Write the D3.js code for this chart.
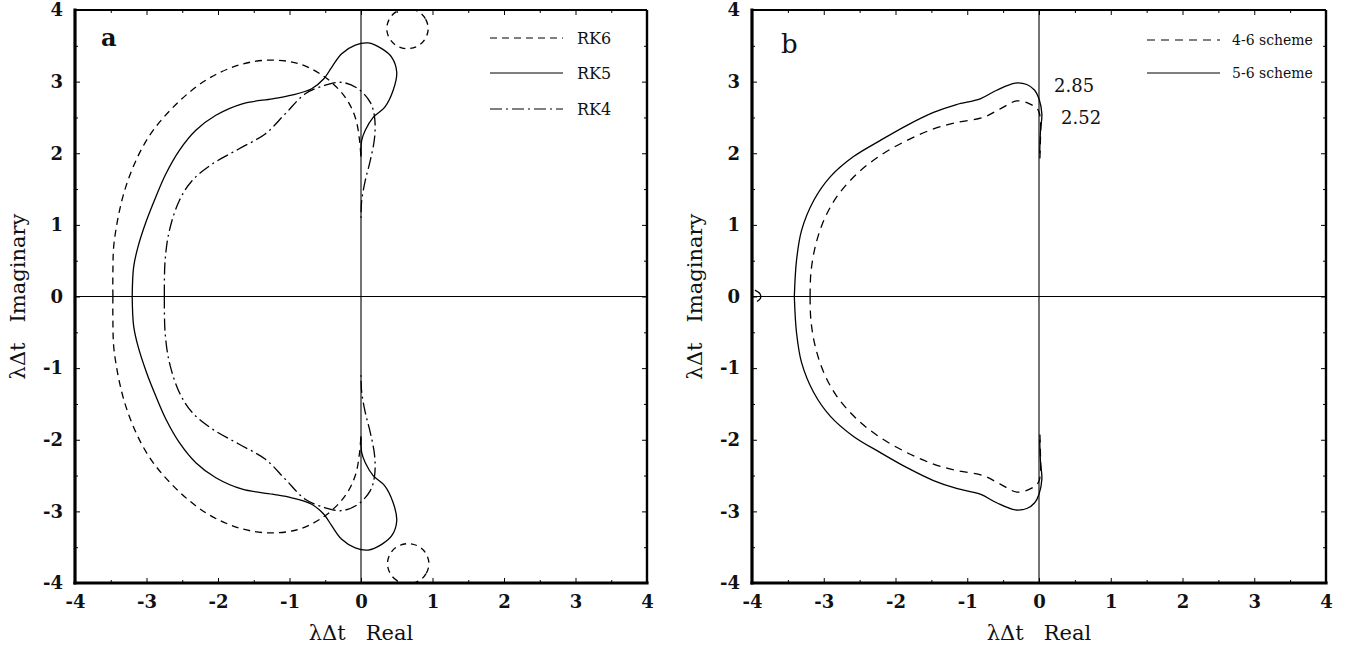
<!DOCTYPE html>
<html>
<head>
<meta charset="utf-8">
<script src="https://cdn.jsdelivr.net/npm/d3@7"></script>
<style>
  body { margin: 0; background: #fff; }
  svg text { font-family: "DejaVu Serif", "Liberation Serif", serif; fill: #111; }
</style>
</head>
<body>
<svg id="chart" width="1351" height="649"></svg>
<script>
// ---- data (lambda*dt plane) ----
var ticksMajor = [-4, -3, -2, -1, 0, 1, 2, 3, 4];
var ticksMinor = [-3.5, -2.5, -1.5, -0.5, 0.5, 1.5, 2.5, 3.5];

// panel a
var rk6Upper = [[-3.47,0],[-3.47,0.35],[-3.45,0.78],[-3.29,1.53],[-3.00,2.18],[-2.63,2.64],[-2.17,3.02],[-1.71,3.23],[-1.29,3.30],[-0.87,3.25],[-0.50,3.06],[-0.22,2.78],[-0.08,2.50],[-0.02,2.18],[0.0,1.92]];
var rk6Lower = [[-3.47,0],[-3.47,-0.35],[-3.45,-0.78],[-3.29,-1.53],[-3.00,-2.18],[-2.63,-2.64],[-2.17,-3.02],[-1.71,-3.23],[-1.29,-3.30],[-0.87,-3.25],[-0.50,-3.06],[-0.22,-2.78],[-0.08,-2.50],[-0.02,-2.18],[0.0,-1.92]];
var rk6IslandUp = [[0.94,3.74],[0.90,3.88],[0.80,3.98],[0.65,4.02],[0.50,3.98],[0.40,3.88],[0.36,3.74],[0.40,3.60],[0.50,3.50],[0.65,3.46],[0.80,3.50],[0.90,3.60]];
var rk6IslandDown = [[0.95,-3.73],[0.91,-3.87],[0.81,-3.97],[0.66,-4.01],[0.51,-3.97],[0.41,-3.87],[0.37,-3.73],[0.41,-3.59],[0.51,-3.49],[0.66,-3.45],[0.81,-3.49],[0.91,-3.59]];
var rk5Upper = [[-3.20,0],[-3.18,0.41],[-3.12,0.69],[-3.00,1.06],[-2.87,1.39],[-2.73,1.71],[-2.54,2.04],[-2.31,2.32],[-2.03,2.53],[-1.66,2.69],[-1.24,2.76],[-0.97,2.81],[-0.69,2.90],[-0.52,3.04],[-0.41,3.20],[-0.27,3.39],[-0.08,3.51],[0.10,3.54],[0.29,3.46],[0.43,3.34],[0.50,3.13],[0.45,2.88],[0.33,2.64],[0.17,2.50],[0.06,2.32],[0.01,2.18],[0.0,1.95]];
var rk5Lower = [[-3.20,0],[-3.18,-0.41],[-3.12,-0.69],[-3.00,-1.06],[-2.87,-1.39],[-2.73,-1.71],[-2.54,-2.04],[-2.31,-2.32],[-2.03,-2.53],[-1.66,-2.69],[-1.24,-2.76],[-0.97,-2.81],[-0.69,-2.90],[-0.52,-3.04],[-0.41,-3.20],[-0.27,-3.39],[-0.08,-3.51],[0.10,-3.54],[0.29,-3.46],[0.43,-3.34],[0.50,-3.13],[0.45,-2.88],[0.33,-2.64],[0.17,-2.50],[0.06,-2.32],[0.01,-2.18],[0.0,-1.95]];
var rk4Upper = [[-2.75,0],[-2.74,0.50],[-2.68,0.92],[-2.54,1.34],[-2.36,1.62],[-2.08,1.85],[-1.71,2.06],[-1.34,2.27],[-1.06,2.55],[-0.78,2.83],[-0.50,2.95],[-0.27,2.99],[-0.04,2.90],[0.13,2.71],[0.19,2.50],[0.19,2.22],[0.13,1.90],[0.06,1.62],[0.01,1.34],[0.0,1.10]];
var rk4Lower = [[-2.75,0],[-2.74,-0.50],[-2.68,-0.92],[-2.54,-1.34],[-2.36,-1.62],[-2.08,-1.85],[-1.71,-2.06],[-1.34,-2.27],[-1.06,-2.55],[-0.78,-2.83],[-0.50,-2.95],[-0.27,-2.99],[-0.04,-2.90],[0.13,-2.71],[0.19,-2.50],[0.19,-2.22],[0.13,-1.90],[0.06,-1.62],[0.01,-1.34],[0.0,-1.10]];

// panel b
var s56Upper = [[-3.41,0],[-3.38,0.50],[-3.31,0.92],[-3.14,1.34],[-2.91,1.67],[-2.59,1.95],[-2.21,2.18],[-1.84,2.39],[-1.47,2.57],[-1.15,2.68],[-0.82,2.76],[-0.59,2.88],[-0.33,2.98],[-0.17,2.96],[-0.06,2.88],[0.0,2.76],[0.04,2.55],[0.02,2.30],[0.01,2.00]];
var s56Lower = [[-3.41,0],[-3.38,-0.50],[-3.31,-0.92],[-3.14,-1.34],[-2.91,-1.67],[-2.59,-1.95],[-2.21,-2.18],[-1.84,-2.39],[-1.47,-2.57],[-1.15,-2.68],[-0.82,-2.76],[-0.59,-2.88],[-0.33,-2.98],[-0.17,-2.96],[-0.06,-2.88],[0.0,-2.76],[0.04,-2.55],[0.02,-2.30],[0.01,-2.00]];
var s56Edge = [[-3.96,0.09],[-3.89,0.04],[-3.88,-0.02],[-3.93,-0.07]];
var s46Upper = [[-3.19,0],[-3.18,0.32],[-3.12,0.69],[-3.00,1.06],[-2.82,1.39],[-2.54,1.71],[-2.21,1.97],[-1.84,2.18],[-1.47,2.34],[-1.15,2.43],[-0.78,2.50],[-0.54,2.62],[-0.31,2.73],[-0.13,2.69],[-0.01,2.60],[0.02,2.46],[0.02,2.20],[0.01,1.85]];
var s46Lower = [[-3.19,0],[-3.18,-0.32],[-3.12,-0.69],[-3.00,-1.06],[-2.82,-1.39],[-2.54,-1.71],[-2.21,-1.97],[-1.84,-2.18],[-1.47,-2.34],[-1.15,-2.43],[-0.78,-2.50],[-0.54,-2.62],[-0.31,-2.73],[-0.13,-2.69],[-0.01,-2.60],[0.02,-2.46],[0.02,-2.20],[0.01,-1.85]];

var labelA = ["RK6", "RK5", "RK4"];
var labelB = ["4-6 scheme", "5-6 scheme"];
var markB = ["2.85", "2.52"];

// ---- layout ----
var svg = d3.select("#chart");
var plotTop = 10, plotBottom = 583;

function drawPanel(left, right, id) {
  var x = d3.scaleLinear().domain([-4, 4]).range([left, right]);
  var y = d3.scaleLinear().domain([-4, 4]).range([plotBottom, plotTop]);
  var g = svg.append("g");

  g.append("clipPath").attr("id", "clip" + id)
    .append("rect").attr("x", left).attr("y", plotTop)
    .attr("width", right - left).attr("height", plotBottom - plotTop);

  // zero lines
  g.append("line").attr("x1", left).attr("x2", right)
    .attr("y1", y(0)).attr("y2", y(0)).attr("stroke", "#000").attr("stroke-width", 1.1);
  g.append("line").attr("x1", x(0)).attr("x2", x(0))
    .attr("y1", plotTop).attr("y2", plotBottom).attr("stroke", "#000").attr("stroke-width", 1.1);

  // axes: inward ticks, labels outside
  var axes = [
    [d3.axisBottom(x), plotBottom, true, "x"],
    [d3.axisTop(x), plotTop, false, "x"],
    [d3.axisLeft(y), left, true, "y"],
    [d3.axisRight(y), right, false, "y"]
  ];
  axes.forEach(function(a) {
    var tr = a[3] === "x" ? "translate(0," + a[1] + ")" : "translate(" + a[1] + ",0)";
    var major = g.append("g").attr("transform", tr)
      .call(a[0].tickValues(ticksMajor).tickSize(-5).tickPadding(12)
        .tickFormat(function(d) { return a[2] ? String(d) : ""; }));
    major.select(".domain").remove();
    major.selectAll("text").attr("font-size", 18).attr("font-family", "DejaVu Serif")
      .attr("font-weight", "bold").attr("fill", "#111");
    major.selectAll("line").attr("stroke", "#000").attr("stroke-width", 1);
    var minor = g.append("g").attr("transform", tr)
      .call(a[0].tickValues(ticksMinor).tickSize(-3).tickFormat(""));
    minor.select(".domain").remove();
    minor.selectAll("line").attr("stroke", "#000").attr("stroke-width", 1);
  });

  // frame: left/bottom heavier
  g.append("line").attr("x1", left).attr("x2", right).attr("y1", plotTop).attr("y2", plotTop)
    .attr("stroke", "#000").attr("stroke-width", 2.2);
  g.append("line").attr("x1", right).attr("x2", right).attr("y1", plotTop).attr("y2", plotBottom)
    .attr("stroke", "#000").attr("stroke-width", 2.4);
  g.append("line").attr("x1", left).attr("x2", right).attr("y1", plotBottom).attr("y2", plotBottom)
    .attr("stroke", "#000").attr("stroke-width", 3.2).attr("stroke-linecap", "square");
  g.append("line").attr("x1", left).attr("x2", left).attr("y1", plotTop).attr("y2", plotBottom)
    .attr("stroke", "#000").attr("stroke-width", 3.2).attr("stroke-linecap", "square");

  // axis titles
  g.append("text").attr("x", x(0)).attr("y", 640).attr("text-anchor", "middle")
    .attr("font-size", 21).style("white-space", "pre").text("λΔt   Real");
  g.append("text").attr("transform", "translate(" + (left - 50) + "," + y(0) + ") rotate(-90)")
    .attr("text-anchor", "middle").attr("font-size", 21).style("white-space", "pre")
    .text("λΔt   Imaginary");

  return { g: g, x: x, y: y, id: id };
}

function curve(p, pts, dash, closed) {
  var line = d3.line()
    .x(function(d) { return p.x(d[0]); })
    .y(function(d) { return p.y(d[1]); })
    .curve(closed ? d3.curveCardinalClosed : d3.curveCatmullRom.alpha(0.5));
  p.g.append("path").datum(pts)
    .attr("clip-path", "url(#clip" + p.id + ")")
    .attr("d", line)
    .attr("fill", "none").attr("stroke", "#000").attr("stroke-width", 1.3)
    .attr("stroke-dasharray", dash || null);
}

// ---- panel a ----
var pa = drawPanel(75, 647, "a");
var dashRK6 = "7,5", dashRK4 = "12,4,2,4";
curve(pa, rk6Upper, dashRK6);
curve(pa, rk6Lower, dashRK6);
curve(pa, rk6IslandUp, "6,5", true);
curve(pa, rk6IslandDown, "6,5", true);
curve(pa, rk5Upper, null);
curve(pa, rk5Lower, null);
curve(pa, rk4Upper, dashRK4);
curve(pa, rk4Lower, dashRK4);

pa.g.append("text").attr("x", 101).attr("y", 46).attr("font-size", 24)
  .attr("font-weight", "bold").text("a");

var legA = [dashRK6, null, dashRK4];
labelA.forEach(function(t, i) {
  var ly = [38, 73, 109][i];
  pa.g.append("line").attr("x1", 490).attr("x2", 563).attr("y1", ly).attr("y2", ly)
    .attr("stroke", "#000").attr("stroke-width", 1.2).attr("stroke-dasharray", legA[i]);
  pa.g.append("text").attr("x", 577).attr("y", ly + 6).attr("font-size", 16).text(t);
});

// ---- panel b ----
var pb = drawPanel(752, 1326, "b");
var dash46 = "8,6";
curve(pb, s46Upper, dash46);
curve(pb, s46Lower, dash46);
curve(pb, s56Upper, null);
curve(pb, s56Lower, null);
curve(pb, s56Edge, null);

pb.g.append("text").attr("x", 781).attr("y", 53).attr("font-size", 26).text("b");

var legB = [dash46, null];
labelB.forEach(function(t, i) {
  var ly = [40, 73][i];
  pb.g.append("line").attr("x1", 1147).attr("x2", 1220).attr("y1", ly).attr("y2", ly)
    .attr("stroke", "#000").attr("stroke-width", 1.2).attr("stroke-dasharray", legB[i]);
  pb.g.append("text").attr("x", 1232).attr("y", ly + 5).attr("font-size", 14).text(t);
});

pb.g.append("text").attr("x", 1054).attr("y", 92).attr("font-size", 18).text(markB[0]);
pb.g.append("text").attr("x", 1061).attr("y", 124).attr("font-size", 18).text(markB[1]);
</script>
</body>
</html>
